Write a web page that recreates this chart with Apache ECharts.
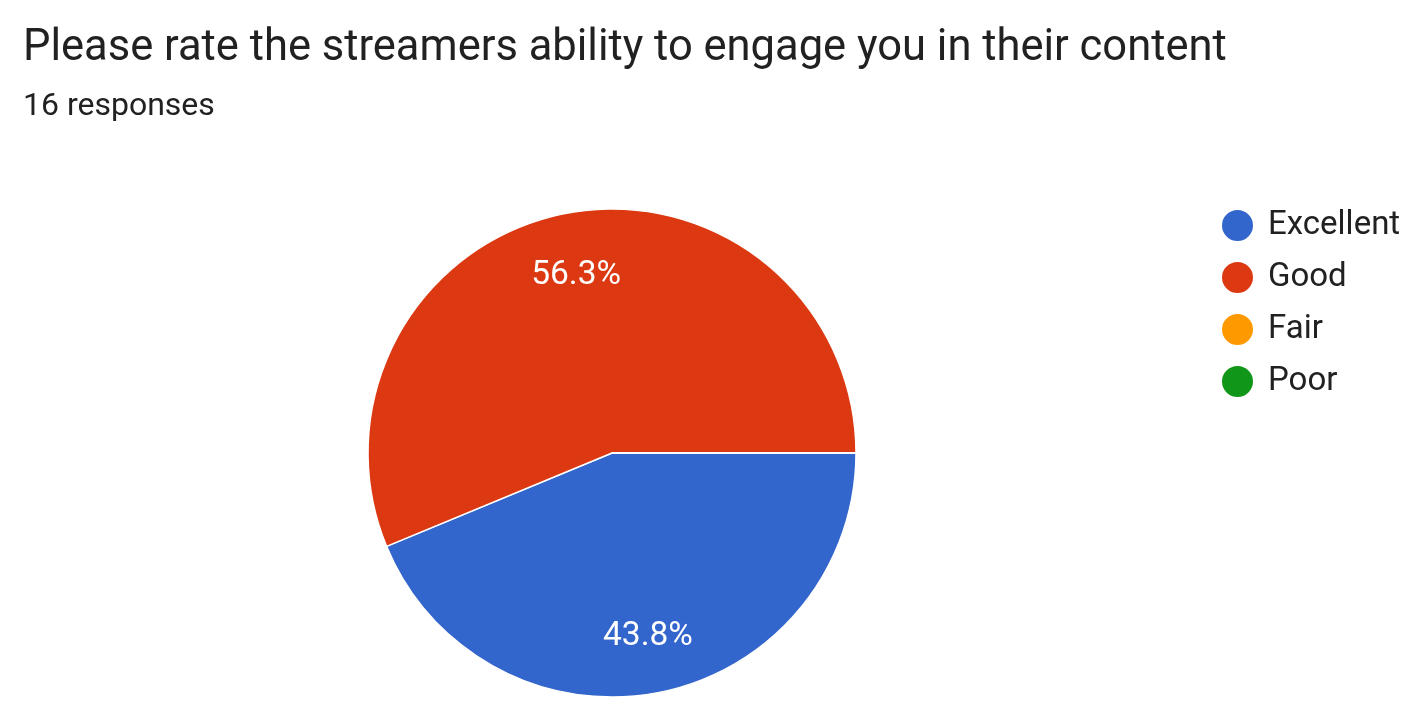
<!DOCTYPE html>
<html>
<head>
<meta charset="utf-8">
<script src="https://cdn.jsdelivr.net/npm/echarts@6/dist/echarts.min.js"></script>
<style>
html,body{margin:0;padding:0;background:#fff;}
#chart{width:1415px;height:721px;}
</style>
</head>
<body>
<div id="chart"></div>
<script>
const titleText = 'Please rate the streamers ability to engage you in their content';
const subtitleText = '16 responses';
const categories = ['Excellent', 'Good', 'Fair', 'Poor'];
const counts = [7, 9, 0, 0];
const colors = ['#3366cc', '#dc3912', '#ff9900', '#109618'];

const total = counts.reduce((a, b) => a + b, 0);
const pieData = categories.map((c, i) => ({ name: c, value: counts[i] }));
const labelData = categories.map((c, i) => ({ name: '_' + c, value: counts[i] }));

const chart = echarts.init(document.getElementById('chart'), null, { renderer: 'canvas' });
chart.setOption({
  animation: false,
  color: colors,
  textStyle: { fontFamily: 'Roboto' },
  title: [
    { text: titleText, left: 18, top: 22, textStyle: { fontFamily: 'Roboto', fontSize: 43.5, fontWeight: 'normal', color: '#212121' } },
    { text: subtitleText, left: 18, top: 86, textStyle: { fontFamily: 'Roboto', fontSize: 32, fontWeight: 'normal', color: '#212121' } }
  ],
  legend: {
    orient: 'vertical',
    left: 1215,
    top: 203,
    icon: 'circle',
    itemWidth: 33,
    itemHeight: 33,
    itemGap: 17,
    data: categories,
    selectedMode: false,
    textStyle: { fontFamily: 'Roboto', fontSize: 33, lineHeight: 33, color: '#212121', padding: [0, 0, 0, 9] }
  },
  series: [
    {
      type: 'pie',
      center: [612, 453],
      radius: [0, 244],
      startAngle: 0,
      clockwise: true,
      silent: true,
      stillShowZeroSum: true,
      data: pieData,
      label: { show: false },
      labelLine: { show: false },
      itemStyle: { borderColor: '#ffffff', borderWidth: 1.5 },
      emphasis: { disabled: true }
    },
    {
      type: 'pie',
      center: [612, 453],
      radius: [118, 244],
      startAngle: 0,
      clockwise: true,
      silent: true,
      data: labelData,
      itemStyle: { color: 'rgba(0,0,0,0)', borderWidth: 0 },
      labelLine: { show: false },
      emphasis: { disabled: true },
      label: {
        show: true,
        position: 'inside',
        offset: [0, 3],
        fontFamily: 'Roboto',
        fontSize: 33.5,
        color: '#ffffff',
        formatter: function (p) {
          if (!p.value) return '';
          return (Math.round(p.value * 1000 / total) / 10).toFixed(1) + '%';
        }
      }
    }
  ]
});
</script>
</body>
</html>
